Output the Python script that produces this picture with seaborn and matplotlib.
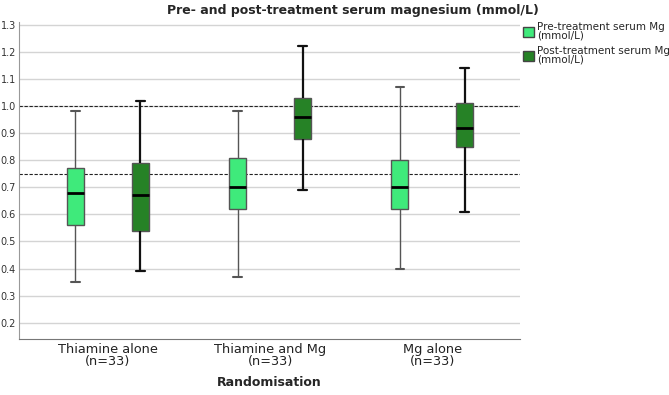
import numpy as np
import pandas as pd
import seaborn as sns
import matplotlib.pyplot as plt
from matplotlib.patches import Patch

# five-number summaries: min, q1, median, q3, max
groups = ['Thiamine alone\n(n=33)', 'Thiamine and Mg\n(n=33)', 'Mg alone\n(n=33)']
series = ['Pre-treatment serum Mg\n(mmol/L)', 'Post-treatment serum Mg\n(mmol/L)']

pre_summary = [
    [0.35, 0.56, 0.68, 0.77, 0.98],
    [0.37, 0.62, 0.70, 0.81, 0.98],
    [0.40, 0.62, 0.70, 0.80, 1.07],
]
post_summary = [
    [0.39, 0.54, 0.67, 0.79, 1.02],
    [0.69, 0.88, 0.96, 1.03, 1.22],
    [0.61, 0.85, 0.92, 1.01, 1.14],
]
ref_lines = [0.75, 1.0]
yticks = [0.2, 0.3, 0.4, 0.5, 0.6, 0.7, 0.8, 0.9, 1.0, 1.1, 1.2, 1.3]

rows = []
for g, pre, post in zip(groups, pre_summary, post_summary):
    for v in pre:
        rows.append({'group': g, 'series': series[0], 'mg': v})
    for v in post:
        rows.append({'group': g, 'series': series[1], 'mg': v})
df = pd.DataFrame(rows)

colors = ['#3FEA7B', '#268226']

sns.set_style('white')
plt.rcParams['font.family'] = ['DejaVu Sans']

fig = plt.figure(figsize=(6.69, 3.95), dpi=100)
ax = fig.add_axes([0.028, 0.142, 0.749, 0.802])

for y in yticks:
    ax.axhline(y, color='#d4d4d4', lw=1.0, zorder=0)
for y in ref_lines:
    ax.axhline(y, color='#222222', lw=0.8, ls=(0, (3, 1.5)), zorder=1)

sns.boxplot(data=df, x='group', y='mg', hue='series', order=groups,
            hue_order=series, palette=colors, saturation=1, width=0.8, gap=0.74,
            whis=np.inf, linewidth=1.0, linecolor='#555555',
            medianprops={'color': 'black', 'linewidth': 2.0},
            capprops={'linewidth': 1.5}, legend=False, ax=ax, zorder=2)

# darker, heavier whiskers for the post-treatment boxes
for line in ax.lines:
    x = line.get_xdata()
    if len(x) and 0.1 < np.mean(x) % 1 < 0.5:
        if line.get_color() != 'black':
            line.set_color('#111111')
            line.set_linewidth(1.6)

ax.set_xlim(-0.55, 2.54)
ax.set_ylim(0.14, 1.31)
ax.set_yticks(yticks)
ax.set_yticklabels([f'{v:.1f}' for v in yticks], fontsize=7, color='#333333')
ax.tick_params(axis='x', length=0, labelsize=9.3, pad=3, labelcolor='#222222')
ax.tick_params(axis='y', length=0, pad=2)
for lbl in ax.get_xticklabels():
    lbl.set_linespacing(0.85)
ax.set_ylabel('')
ax.set_xlabel('Randomisation', fontsize=9, fontweight='bold', labelpad=6)
for s in ['top', 'right']:
    ax.spines[s].set_visible(False)
ax.spines['left'].set_color('#999999')
ax.spines['bottom'].set_color('#777777')

fig.text(0.528, 0.99, 'Pre- and post-treatment serum magnesium (mmol/L)',
         ha='center', va='top', fontsize=9, fontweight='bold')

handles = [Patch(facecolor=c, edgecolor='#444444', label=s) for c, s in zip(colors, series)]
leg = fig.legend(handles=handles, loc='upper left', bbox_to_anchor=(0.775, 0.955),
                 frameon=False, fontsize=7.5, handlelength=1.1, handleheight=1.1,
                 handletextpad=0.3, labelspacing=0.5, borderaxespad=0)
for t in leg.get_texts():
    t.set_linespacing(0.85)

fig.savefig('out.png', dpi=100)
